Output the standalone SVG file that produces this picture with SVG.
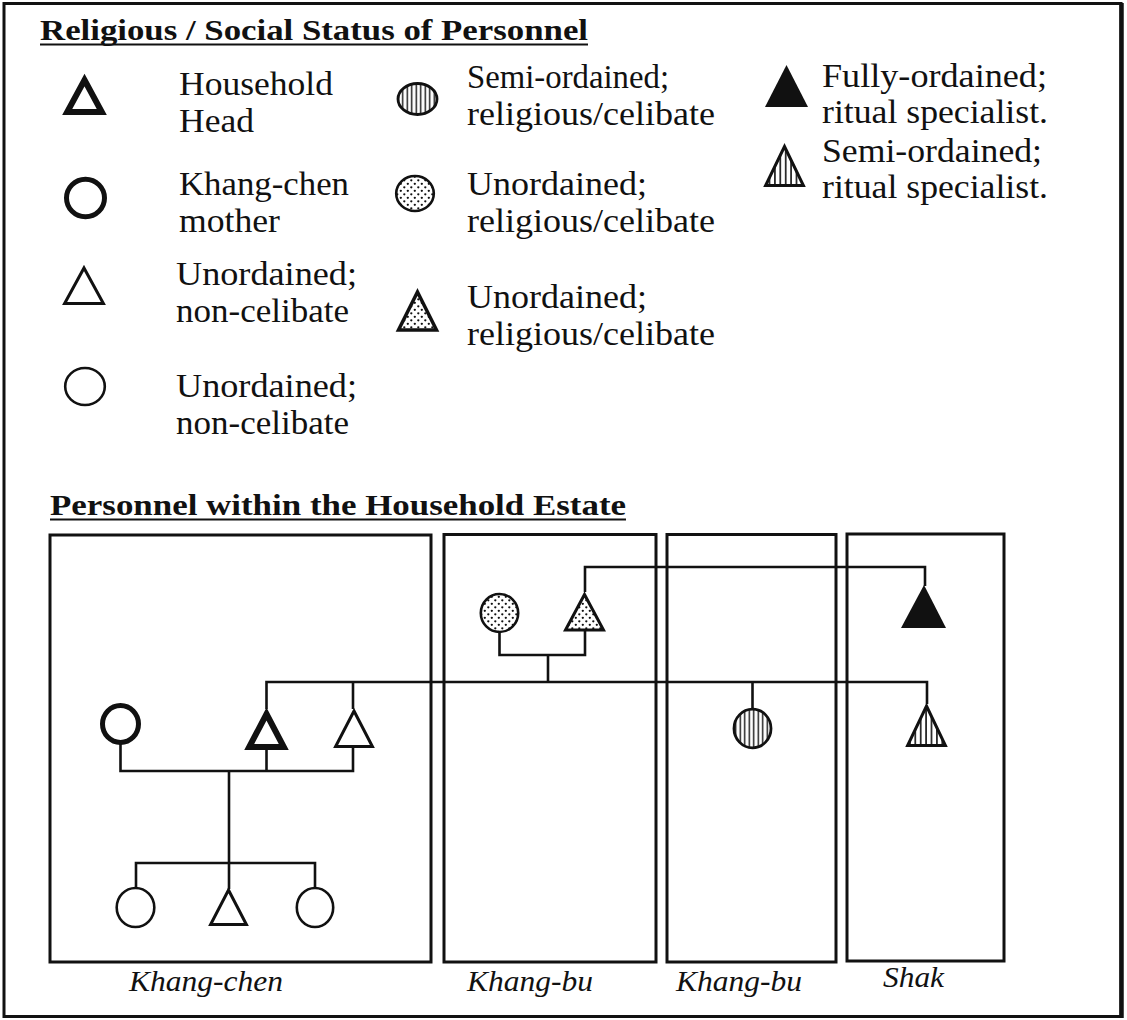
<svg xmlns="http://www.w3.org/2000/svg" width="1127" height="1020" viewBox="0 0 1127 1020">
  <style>
    text { font-family: "Liberation Serif", "Times New Roman", serif; fill: #111; }
    .lg { font-size: 33px; }
    .hd { font-size: 30px; font-weight: bold; }
    .it { font-size: 29px; font-style: italic; }
    .frame { fill: none; stroke: #111; stroke-width: 3; }
    .box { fill: none; stroke: #111; stroke-width: 3; }
    .wire { fill: none; stroke: #111; stroke-width: 2.6; }
    .thin { fill: #fff; stroke: #111; stroke-width: 3; stroke-linejoin: miter; }
    .thick { fill: #fff; stroke: #111; stroke-width: 6; stroke-linejoin: miter; }
    .dots { fill: url(#dotfill); stroke: #111; stroke-width: 3; stroke-linejoin: miter; }
    .vstr { fill: url(#stripefill); stroke: #111; stroke-width: 3; stroke-linejoin: miter; }
    .vstr2 { fill: url(#stripefill2); stroke: #111; stroke-width: 3; stroke-linejoin: miter; }
    .solid { fill: #111; stroke: none; }
  </style>
  <defs>
    <pattern id="dotfill" patternUnits="userSpaceOnUse" width="7" height="7">
      <rect width="7" height="7" fill="#fff"/>
      <circle cx="1.8" cy="1.8" r="1.15" fill="#111"/>
      <circle cx="5.3" cy="5.3" r="1.15" fill="#111"/>
    </pattern>
    <pattern id="stripefill" patternUnits="userSpaceOnUse" width="4.5" height="10">
      <rect width="4.5" height="10" fill="#fff"/>
      <line x1="2.25" y1="0" x2="2.25" y2="10" stroke="#111" stroke-width="1.4"/>
    </pattern>
    <pattern id="stripefill2" patternUnits="userSpaceOnUse" width="5.4" height="10">
      <rect width="5.4" height="10" fill="#fff"/>
      <line x1="2.7" y1="0" x2="2.7" y2="10" stroke="#111" stroke-width="1.6"/>
    </pattern>
  </defs>

  <rect width="1127" height="1020" fill="#fff"/>

  <!-- outer frame, heavier on the right edge -->
  <rect class="frame" x="4" y="3.5" width="1117" height="1013"/>
  <line x1="1121.5" y1="3" x2="1121.5" y2="1018" stroke="#111" stroke-width="4.5"/>

  <!-- legend heading -->
  <g id="legend-title">
    <text class="hd" x="40" y="40" textLength="548" lengthAdjust="spacingAndGlyphs">Religious / Social Status of Personnel</text>
    <line x1="40" y1="44.5" x2="588" y2="44.5" stroke="#111" stroke-width="2"/>
  </g>

  <!-- legend, first column -->
  <g id="key-head">
    <path class="thick" d="M84.5 80 L101.8 112 L67.2 112 Z"/>
    <text class="lg" x="179" y="95" textLength="154" lengthAdjust="spacingAndGlyphs">Household</text>
    <text class="lg" x="179" y="132" textLength="75" lengthAdjust="spacingAndGlyphs">Head</text>
  </g>
  <g id="key-mother">
    <ellipse class="thin" style="stroke-width:5" cx="85.5" cy="198" rx="19" ry="18.8"/>
    <text class="lg" x="179" y="195" textLength="170" lengthAdjust="spacingAndGlyphs">Khang-chen</text>
    <text class="lg" x="179" y="232" textLength="101" lengthAdjust="spacingAndGlyphs">mother</text>
  </g>
  <g id="key-lay-male">
    <path class="thin" d="M84 268 L103.4 303.5 L64.6 303.5 Z"/>
    <text class="lg" x="176" y="285" textLength="181" lengthAdjust="spacingAndGlyphs">Unordained;</text>
    <text class="lg" x="176" y="322" textLength="173" lengthAdjust="spacingAndGlyphs">non-celibate</text>
  </g>
  <g id="key-lay-female">
    <ellipse class="thin" style="stroke-width:2.6" cx="85" cy="386.5" rx="19.8" ry="18.5"/>
    <text class="lg" x="176" y="397" textLength="181" lengthAdjust="spacingAndGlyphs">Unordained;</text>
    <text class="lg" x="176" y="434" textLength="173" lengthAdjust="spacingAndGlyphs">non-celibate</text>
  </g>

  <!-- legend, second column -->
  <g id="key-semi-female">
    <ellipse class="vstr" style="stroke-width:2.8" cx="417.5" cy="99" rx="19.5" ry="15.5"/>
    <text class="lg" x="467" y="88" textLength="202" lengthAdjust="spacingAndGlyphs">Semi-ordained;</text>
    <text class="lg" x="467" y="125" textLength="248" lengthAdjust="spacingAndGlyphs">religious/celibate</text>
  </g>
  <g id="key-unord-female">
    <ellipse class="dots" style="stroke-width:2.6" cx="415" cy="193.5" rx="18.8" ry="17.5"/>
    <text class="lg" x="467" y="195" textLength="180" lengthAdjust="spacingAndGlyphs">Unordained;</text>
    <text class="lg" x="467" y="232" textLength="248" lengthAdjust="spacingAndGlyphs">religious/celibate</text>
  </g>
  <g id="key-unord-male">
    <path class="dots" style="stroke-width:3.5" d="M417.5 292 L436.5 330 L398.5 330 Z"/>
    <text class="lg" x="467" y="308" textLength="180" lengthAdjust="spacingAndGlyphs">Unordained;</text>
    <text class="lg" x="467" y="345" textLength="248" lengthAdjust="spacingAndGlyphs">religious/celibate</text>
  </g>

  <!-- legend, third column -->
  <g id="key-full-male">
    <path class="solid" d="M786.5 65 L808 107 L765 107 Z"/>
    <text class="lg" x="822" y="87" textLength="225" lengthAdjust="spacingAndGlyphs">Fully-ordained;</text>
    <text class="lg" x="822" y="123" textLength="226" lengthAdjust="spacingAndGlyphs">ritual specialist.</text>
  </g>
  <g id="key-semi-male">
    <path class="vstr2" d="M784.5 146.5 L803.4 185.5 L765.6 185.5 Z"/>
    <text class="lg" x="822" y="162" textLength="220" lengthAdjust="spacingAndGlyphs">Semi-ordained;</text>
    <text class="lg" x="822" y="198" textLength="226" lengthAdjust="spacingAndGlyphs">ritual specialist.</text>
  </g>

  <!-- estate heading -->
  <g id="estate-title">
    <text class="hd" x="50" y="515" textLength="576" lengthAdjust="spacingAndGlyphs">Personnel within the Household Estate</text>
    <line x1="50" y1="519.5" x2="626" y2="519.5" stroke="#111" stroke-width="2"/>
  </g>

  <!-- dwellings -->
  <g id="khang-chen">
    <rect class="box" x="50" y="535" width="381" height="427"/>
    <text class="it" x="129" y="991" textLength="154" lengthAdjust="spacingAndGlyphs">Khang-chen</text>
  </g>
  <g id="khang-bu-1">
    <rect class="box" x="444" y="534.5" width="212" height="427.5"/>
    <text class="it" x="467" y="991" textLength="126" lengthAdjust="spacingAndGlyphs">Khang-bu</text>
  </g>
  <g id="khang-bu-2">
    <rect class="box" x="667" y="534.5" width="169" height="427.5"/>
    <text class="it" x="676" y="991" textLength="126" lengthAdjust="spacingAndGlyphs">Khang-bu</text>
  </g>
  <g id="shak">
    <rect class="box" x="847" y="534" width="157" height="427"/>
    <text class="it" x="883" y="987" textLength="61" lengthAdjust="spacingAndGlyphs">Shak</text>
  </g>

  <!-- kinship lines -->
  <g id="connectors">
    <!-- parents of the senior generation -->
    <path class="wire" d="M499.5 632 V655 H585 V629"/>
    <line class="wire" x1="548" y1="655" x2="548" y2="682"/>
    <!-- sibling line of that generation -->
    <path class="wire" d="M266.5 709 V682 H927 V704"/>
    <line class="wire" x1="353" y1="682" x2="353" y2="709"/>
    <line class="wire" x1="752.5" y1="682" x2="752.5" y2="709"/>
    <!-- dotted male to the fully ordained brother -->
    <path class="wire" d="M585 592 V567 H925 V586"/>
    <!-- household head with wife and brother -->
    <path class="wire" d="M120.5 744 V771 H353 V746"/>
    <line class="wire" x1="266.5" y1="747" x2="266.5" y2="771"/>
    <!-- descent to the children -->
    <line class="wire" x1="229" y1="771" x2="229" y2="889"/>
    <path class="wire" d="M136 888 V863 H315 V888"/>
  </g>

  <!-- people -->
  <g id="p-parent-f">
    <ellipse class="dots" style="stroke-width:2.6" cx="499.5" cy="613" rx="18.7" ry="19"/>
  </g>
  <g id="p-parent-m">
    <path class="dots" d="M584.5 594.5 L603.5 630 L565.5 630 Z"/>
  </g>
  <g id="p-monk-full">
    <path class="solid" d="M924 585 L946 628 L901 628 Z"/>
  </g>
  <g id="p-mother">
    <ellipse class="thin" style="stroke-width:5" cx="120.5" cy="724" rx="18" ry="18.5"/>
  </g>
  <g id="p-head">
    <path class="thick" d="M266.5 714 L283.8 747 L249.2 747 Z"/>
  </g>
  <g id="p-brother">
    <path class="thin" d="M354 711 L372.4 746.5 L335.6 746.5 Z"/>
  </g>
  <g id="p-nun">
    <ellipse class="vstr" style="stroke-width:2.8" cx="752.5" cy="728.5" rx="18.5" ry="19.3"/>
  </g>
  <g id="p-monk-semi">
    <path class="vstr2" d="M926.5 706 L945.4 745.5 L907.6 745.5 Z"/>
  </g>
  <g id="p-child-1">
    <ellipse class="thin" style="stroke-width:2.6" cx="135.5" cy="907.5" rx="18.8" ry="19.5"/>
  </g>
  <g id="p-child-2">
    <path class="thin" d="M228.5 890 L246.4 924.5 L210.6 924.5 Z"/>
  </g>
  <g id="p-child-3">
    <ellipse class="thin" style="stroke-width:2.6" cx="315" cy="907.5" rx="18.2" ry="19.5"/>
  </g>
</svg>
